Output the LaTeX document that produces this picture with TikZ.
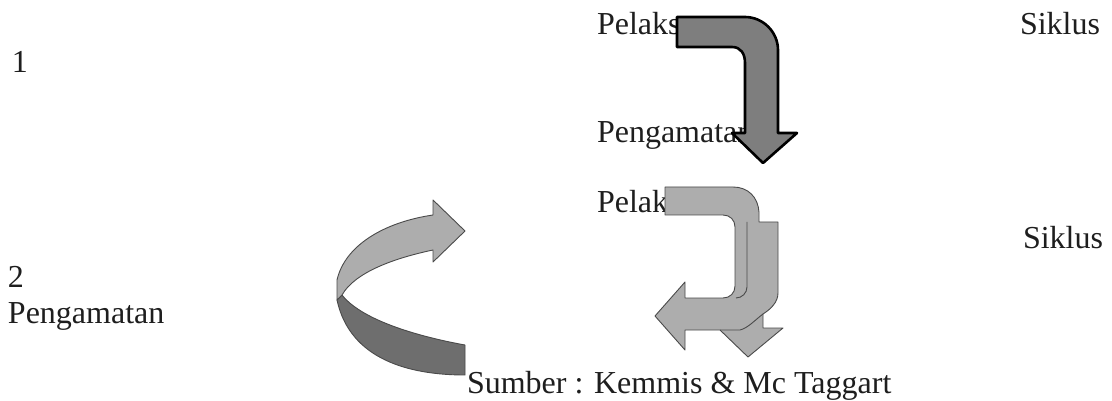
\documentclass[tikz,border=0pt]{standalone}
\usepackage{fontspec}
\setmainfont{Liberation Serif}
\definecolor{txt}{HTML}{1E1E1E}
\definecolor{lightfill}{HTML}{ADADAD}
\definecolor{darkfill}{HTML}{7E7E7E}
\definecolor{ribbondark}{HTML}{6E6E6E}
\definecolor{edge}{HTML}{4A4A4A}
\begin{document}
\begin{tikzpicture}[x=1pt,y=-1pt,
  lbl/.style={anchor=base west,inner sep=0pt,outer sep=0pt,text=txt,font=\fontsize{32}{38}\selectfont},
  darkarrow/.style={fill=darkfill,draw=black,line width=2.6pt,line join=round},
  lightarrow/.style={fill=lightfill,draw=edge,line width=0.9pt,line join=round},
  ribbonback/.style={fill=ribbondark,draw=edge,line width=0.9pt,line join=round},
  edgeline/.style={draw=edge,line width=0.9pt,line join=round}]
\useasboundingbox (0,0) rectangle (1112,401);
\fill[white] (0,0) rectangle (1112,401);

% texts
\node[lbl] (one) at (12,73) {1};
\node[lbl] (two) at (8,287) {2};
\node[lbl] (pengL) at (8,323) {Pengamatan};
\node[lbl] (pel1) at (597,35) {Pelaks};
\node[lbl] (peng1) at (597,143) {Pengamatan};
\node[lbl] (pel2) at (597,213) {Pelak};
\node[lbl] (sik1) at (1020,35) {Siklus};
\node[lbl] (sik2) at (1023,248) {Siklus};
\node[lbl] (src) at (467,393) {Sumber : Kemmis \& Mc Taggart};

% dark bent arrow (cycle 1)
\draw[darkarrow] (677,17) -- (745,17) .. controls (763,17) and (778,32) .. (778,50)
  -- (778,133) -- (797,133) -- (763,163) -- (732,133) -- (745,133) -- (745,63)
  .. controls (745,54) and (741,47) .. (732,47) -- (677,47) -- cycle;

% light double bent arrows (cycle 2)
\draw[lightarrow] (665,187) -- (733,187) .. controls (748,187) and (758,197) .. (759,212)
  -- (759,222) -- (778,222) -- (778,293) .. controls (778,302) and (771,309) .. (763,314)
  -- (763,328) -- (783,328) -- (748,357) -- (720,330) -- (685,330) -- (685,350)
  -- (655,316) -- (685,282) -- (685,298) -- (723,298)
  .. controls (730,298) and (735,293) .. (735,286) -- (735,227)
  .. controls (735,220) and (730,215) .. (723,215) -- (665,215) -- cycle;
\draw[edgeline] (763,314) .. controls (755,320) and (748,328) .. (740,330) -- (720,330);
\draw[edgeline] (747,222) -- (747,287) .. controls (747,293) and (742,298) .. (736,298);

% left curved ribbon arrow
\draw[ribbonback] (342,295) .. controls (360,318) and (410,335) .. (465,345) -- (465,375)
  .. controls (410,375) and (350,360) .. (337,300) -- cycle;
\draw[lightarrow] (433,215) -- (433,200) -- (465,231) -- (433,262) -- (433,250)
  .. controls (395,258) and (355,272) .. (342,295) -- (337,300) -- (337,280)
  .. controls (345,245) and (385,222) .. (433,215) -- cycle;
\end{tikzpicture}
\end{document}
